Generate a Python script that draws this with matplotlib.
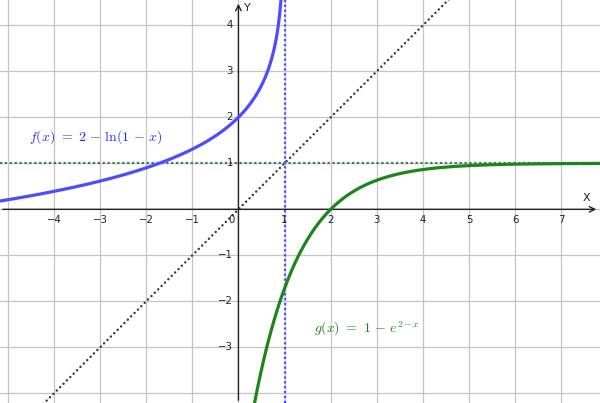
import numpy as np
import matplotlib
matplotlib.use("Agg")
import matplotlib.pyplot as plt

# view window (graph units)
x_min, x_max = -5.17, 7.84
y_min, y_max = -4.21, 4.55

x_ticks = [-4, -3, -2, -1, 1, 2, 3, 4, 5, 6, 7]
y_ticks = [-3, -2, -1, 1, 2, 3, 4]

f_label = r"$f(x)\ =\ 2\,-\,\ln(1\,-\,x)$"
g_label = r"$g(x)\ =\ 1\,-\,e^{2 - x}$"

blue = "#4d4dff"
green = "#1e841e"

plt.rcParams['mathtext.fontset'] = 'cm'

fig = plt.figure(figsize=(6.0, 4.03), dpi=100)
ax = fig.add_axes([0, 0, 1, 1])
ax.set_xlim(x_min, x_max)
ax.set_ylim(y_min, y_max)
ax.axis('off')

# grid
for gx in range(-5, 8):
    ax.axvline(gx, color='#c4c4c4', lw=0.9, zorder=0)
for gy in range(-4, 5):
    ax.axhline(gy, color='#c4c4c4', lw=0.9, zorder=0)

# axes with arrows
ax.annotate('', xy=(x_max - 0.02, 0), xytext=(x_min, 0),
            arrowprops=dict(arrowstyle='->', color='#222222', lw=1.0))
ax.annotate('', xy=(0, y_max - 0.02), xytext=(0, y_min),
            arrowprops=dict(arrowstyle='->', color='#222222', lw=1.0))
ax.text(7.55, 0.13, 'X', fontsize=8, color='#222222', ha='center', va='bottom')
ax.text(0.2, 4.38, 'Y', fontsize=8, color='#222222', ha='center', va='center')

for t in x_ticks:
    ax.text(t, -0.12, '\u2212%d' % -t if t < 0 else str(t), fontsize=7.3,
            ha='center', va='top', color='#222222')
for t in y_ticks:
    ax.text(-0.12, t, '\u2212%d' % -t if t < 0 else str(t), fontsize=7.3,
            ha='right', va='center', color='#222222')
ax.text(-0.09, -0.12, '0', fontsize=7.3, ha='right', va='top', color='#222222')

# asymptotes / reference lines
xd = np.array([x_min, x_max])
ax.plot(xd, xd, color='#3a3a3a', lw=1.8, ls=(0, (0.01, 1.9)),
        dash_capstyle='round', zorder=2)
ax.axhline(1, color='#3d7a5a', lw=1.6, ls=(0, (1, 1.2)), zorder=2)
ax.axvline(1, color=blue, lw=1.6, ls=(0, (1, 1.2)), zorder=2)

# f(x) = 2 - ln(1 - x)
xf = np.linspace(x_min, 1 - 1e-4, 2000)
ax.plot(xf, 2 - np.log(1 - xf), color=blue, lw=2.3, zorder=3)

# g(x) = 1 - exp(2 - x)
xg = np.linspace(0.2, x_max, 2000)
ax.plot(xg, 1 - np.exp(2 - xg), color=green, lw=2.3, zorder=3)

ax.text(-4.55, 1.56, f_label, fontsize=10, color='#2a2aff', ha='left', va='center')
ax.text(1.64, -2.6, g_label, fontsize=10, color=green, ha='left', va='center')

fig.savefig("out.png", dpi=100)
